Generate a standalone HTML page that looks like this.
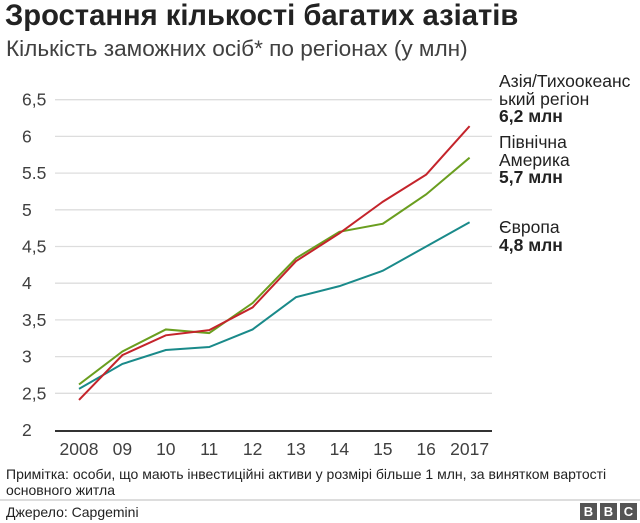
<!DOCTYPE html>
<html><head><meta charset="utf-8"><style>
body{margin:0;width:640px;height:523px;background:#fff;font-family:"Liberation Sans",sans-serif;overflow:hidden;position:relative}
.t{position:absolute;white-space:nowrap}
.lg{position:absolute;white-space:nowrap;font-size:17.5px;line-height:17.5px;color:#222}
</style></head><body>
<div class="t" style="left:5px;top:0px;font-size:29.2px;font-weight:bold;color:#222">Зростання кількості багатих азіатів</div>
<div class="t" style="left:6px;top:36px;font-size:22.6px;color:#404040">Кількість заможних осіб* по регіонах (у млн)</div>
<svg id="c" width="640" height="523" style="position:absolute;left:0;top:0"></svg>
<div class="lg" style="left:499px;top:73px">Азія/Тихоокеанс<br>ький регіон<br><b>6,2 млн</b></div>
<div class="lg" style="left:499px;top:134px">Північна<br>Америка<br><b>5,7 млн</b></div>
<div class="lg" style="left:499px;top:219px">Європа<br><b>4,8 млн</b></div>
<div class="t" style="left:6px;top:466px;font-size:14px;line-height:16px;color:#222">Примітка: особи, що мають інвестиційні активи у розмірі більше 1 млн, за винятком вартості<br>основного житла</div>
<div class="t" style="left:6px;top:504px;font-size:14px;color:#222">Джерело: Capgemini</div>
<div style="position:absolute;left:580px;top:503px;display:flex;gap:3px">
<span style="background:#555;color:#fff;font-weight:bold;font-size:13px;width:17px;height:17px;text-align:center;line-height:17px">B</span>
<span style="background:#555;color:#fff;font-weight:bold;font-size:13px;width:17px;height:17px;text-align:center;line-height:17px">B</span>
<span style="background:#555;color:#fff;font-weight:bold;font-size:13px;width:17px;height:17px;text-align:center;line-height:17px">C</span>
</div>
<script>
const years=["2008","09","10","11","12","13","14","15","16","2017"];
const asia=[2.41,3.02,3.29,3.36,3.67,4.30,4.68,5.11,5.48,6.14];
const northAmerica=[2.62,3.07,3.37,3.32,3.73,4.34,4.70,4.81,5.21,5.71];
const europe=[2.56,2.90,3.09,3.13,3.37,3.81,3.96,4.17,4.50,4.83];
const yTicks=[2,2.5,3,3.5,4,4.5,5,5.5,6,6.5];
const yTickLabels=["2","2,5","3","3,5","4","4,5","5","5.5","6","6,5"];
const svg=document.getElementById('c');const NS="http://www.w3.org/2000/svg";
const x=i=>79+i*43.4;const y=v=>430-(v-2)*73.4;
function mk(t,a){const e=document.createElementNS(NS,t);for(const k in a)e.setAttribute(k,a[k]);svg.appendChild(e);return e;}
yTicks.forEach((v,i)=>{
const g=mk('line',{x1:55,x2:492,y1:y(v)+(i==0?1:0),y2:y(v)+(i==0?1:0),stroke:i==0?'#333':'#ddd','stroke-width':i==0?2:1.3});


const t=mk('text',{x:22,y:y(v)+6,'font-size':17.5,fill:'#404040','font-family':'Liberation Sans'});t.textContent=yTickLabels[i];


});
years.forEach((s,i)=>{
const t=mk('text',{x:x(i),y:455,'font-size':17.5,fill:'#404040','text-anchor':'middle','font-family':'Liberation Sans'});t.textContent=s;


});
function line(d,c,n){const p=mk('polyline',{points:d.map((v,i)=>x(i)+','+y(v)).join(' '),fill:'none',stroke:c,'stroke-width':2});

}
line(europe,'#1a8a8a','europe-line');
line(northAmerica,'#6a9e1f','north-america-line');
line(asia,'#c4242b','asia-line');
const sep=mk('line',{x1:0,x2:640,y1:500,y2:500,stroke:'#bbb','stroke-width':1});


</script>
</body></html>
